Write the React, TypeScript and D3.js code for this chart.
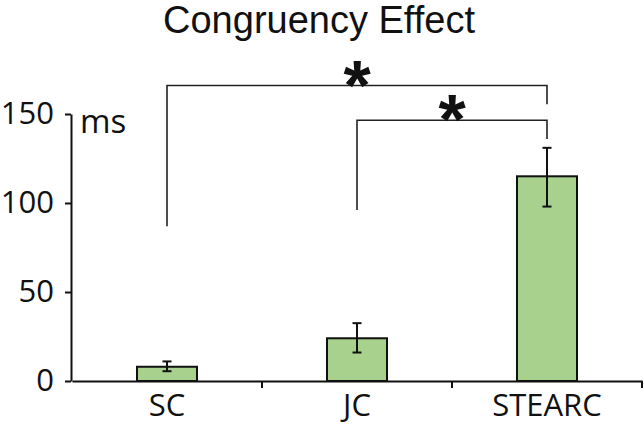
import { useEffect, useRef } from "react";
import * as d3 from "d3";

const CATEGORIES = ["SC", "JC", "STEARC"];
const MEANS = [8, 24, 115];
const ERR_LOW = [5.5, 16, 98];
const ERR_HIGH = [11, 32.5, 131];
const Y_TICKS = [0, 50, 100, 150];

// significance brackets: from/to category, bar height of the line, end heights (ms)
const BRACKET_FROM = ["SC", "JC"];
const BRACKET_TO = ["STEARC", "STEARC"];
const BRACKET_TOP = [166, 146.5];
const BRACKET_LEFT_END = [87, 96];
const BRACKET_RIGHT_END = [155.5, 136];

const W = 644;
const H = 426;

export default function App() {
  const ref = useRef<SVGSVGElement | null>(null);

  useEffect(() => {
    if (!ref.current) return;
    const svg = d3.select(ref.current);
    svg.selectAll("*").remove();

    const x = d3.scaleBand().domain(CATEGORIES).range([72, 642]).paddingInner(0).paddingOuter(0);
    const y = d3.scaleLinear().domain([0, 150]).range([381, 114]);
    const barW = 60;
    const cx = (c: string) => (x(c) || 0) + x.bandwidth() / 2;

    const g = svg.append("g");

    // bars
    g.selectAll("rect.bar")
      .data(CATEGORIES)
      .join("rect")
      .attr("class", "bar")
      .attr("x", (c) => cx(c) - barW / 2)
      .attr("y", (_, i) => y(MEANS[i]))
      .attr("width", barW)
      .attr("height", (_, i) => y(0) - y(MEANS[i]))
      .attr("fill", "#a9d18e")
      .attr("stroke", "#111")
      .attr("stroke-width", 2);

    // error bars
    const eb = g.selectAll("g.err").data(CATEGORIES).join("g").attr("class", "err");
    eb.append("line")
      .attr("x1", (c) => cx(c)).attr("x2", (c) => cx(c))
      .attr("y1", (_, i) => y(ERR_LOW[i])).attr("y2", (_, i) => y(ERR_HIGH[i]));
    eb.append("line")
      .attr("x1", (c) => cx(c) - 4.5).attr("x2", (c) => cx(c) + 4.5)
      .attr("y1", (_, i) => y(ERR_LOW[i])).attr("y2", (_, i) => y(ERR_LOW[i]));
    eb.append("line")
      .attr("x1", (c) => cx(c) - 4.5).attr("x2", (c) => cx(c) + 4.5)
      .attr("y1", (_, i) => y(ERR_HIGH[i])).attr("y2", (_, i) => y(ERR_HIGH[i]));
    eb.selectAll("line").attr("stroke", "#111").attr("stroke-width", 2);

    // y axis
    const ya = g.append("g")
      .attr("transform", "translate(71,0)")
      .call(d3.axisLeft(y).tickValues(Y_TICKS).tickSize(6).tickSizeOuter(0).tickPadding(11));
    ya.select(".domain").attr("stroke", "#111").attr("stroke-width", 2);
    ya.selectAll(".tick line").attr("stroke", "#111").attr("stroke-width", 2);
    ya.selectAll("text")
      .attr("fill", "#111")
      .style("font-family", "'Open Sans', sans-serif")
      .style("font-size", "31px");

    // x axis
    const xa = g.append("g")
      .attr("transform", `translate(0,${y(0)})`)
      .call(d3.axisBottom(x).tickSize(0).tickSizeOuter(0).tickPadding(13));
    xa.select(".domain").attr("stroke", "#111").attr("stroke-width", 2);
    xa.selectAll("text")
      .attr("fill", "#111")
      .style("font-family", "'Open Sans', sans-serif")
      .style("font-size", "31px");
    // category separators below baseline
    g.selectAll("line.sep")
      .data(CATEGORIES)
      .join("line")
      .attr("class", "sep")
      .attr("x1", (c) => (x(c) || 0) + x.bandwidth())
      .attr("x2", (c) => (x(c) || 0) + x.bandwidth())
      .attr("y1", y(0))
      .attr("y2", y(0) + 7)
      .attr("stroke", "#111")
      .attr("stroke-width", 2);

    // unit label
    g.append("text")
      .attr("x", 80).attr("y", 133)
      .style("font-family", "'Open Sans', sans-serif")
      .style("font-size", "33px")
      .attr("fill", "#111")
      .text("ms");

    // significance brackets
    BRACKET_FROM.forEach((from, i) => {
      const x1 = cx(from);
      const x2 = cx(BRACKET_TO[i]);
      const path = d3.path();
      path.moveTo(x1, y(BRACKET_LEFT_END[i]));
      path.lineTo(x1, y(BRACKET_TOP[i]));
      path.lineTo(x2, y(BRACKET_TOP[i]));
      path.lineTo(x2, y(BRACKET_RIGHT_END[i]));
      g.append("path")
        .attr("d", path.toString())
        .attr("fill", "none")
        .attr("stroke", "#222")
        .attr("stroke-width", 1.6);
      g.append("text")
        .attr("x", (x1 + x2) / 2)
        .attr("y", y(BRACKET_TOP[i]) + 24)
        .attr("text-anchor", "middle")
        .style("font-family", "'Liberation Sans', Arial, sans-serif")
        .style("font-weight", 700)
        .style("font-size", "70px")
        .attr("fill", "#111")
        .text("*");
    });

    // title
    svg.append("text")
      .attr("x", 319)
      .attr("y", 33)
      .attr("text-anchor", "middle")
      .style("font-family", "'Liberation Sans', Arial, sans-serif")
      .style("font-size", "38px")
      .attr("fill", "#111")
      .text("Congruency Effect");
  }, []);

  return (
    <>
      <style>{`body{margin:0}`}</style>
      <svg ref={ref} width={W} height={H} style={{ display: "block", background: "#fff" }} />
    </>
  );
}
